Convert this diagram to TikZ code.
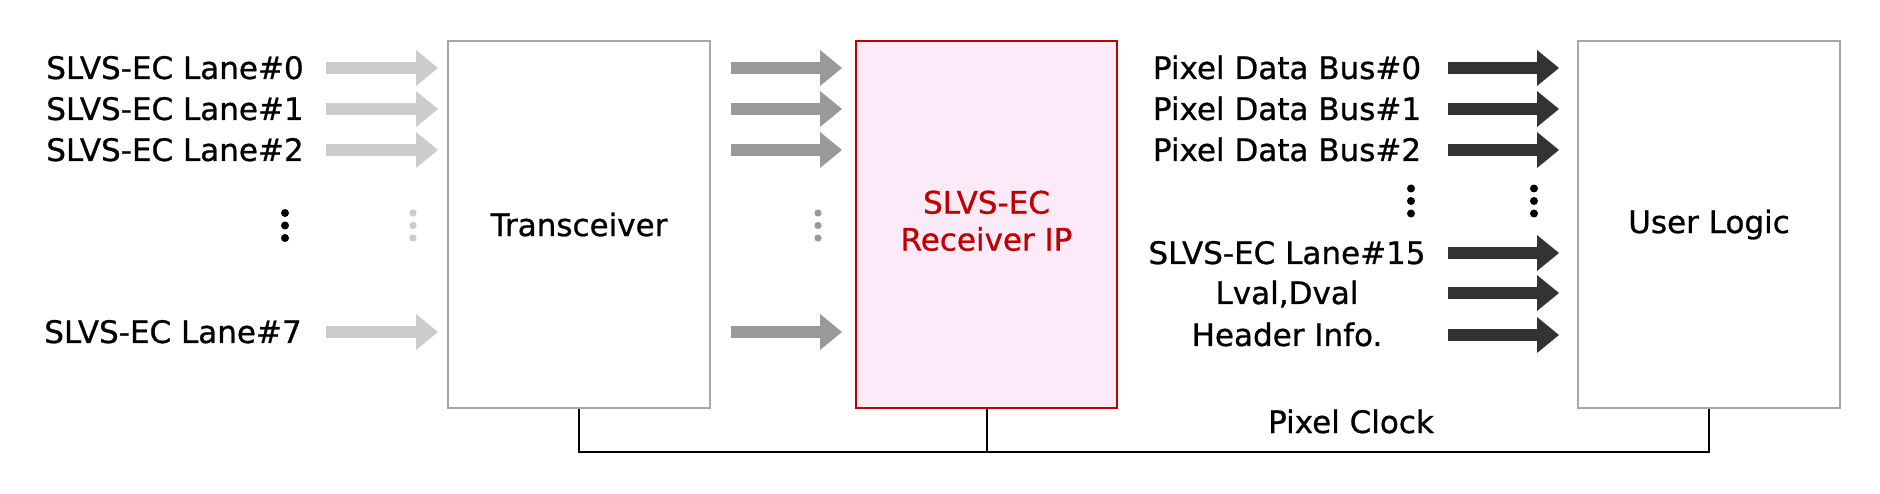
\documentclass[tikz,border=0pt]{standalone}
\usepackage{fontspec}
\setmainfont{DejaVu Sans}[FakeBold=0.8]
\usetikzlibrary{arrows.meta}
\definecolor{lgray}{HTML}{CCCCCC}
\definecolor{mgray}{HTML}{999999}
\definecolor{dgray}{HTML}{333333}
\definecolor{boxgray}{HTML}{A6A6A6}
\definecolor{ipred}{HTML}{C00000}
\definecolor{ipfill}{HTML}{FCEAF8}
\begin{document}
\begin{tikzpicture}[x=1pt,y=-1pt,
  font=\fontsize{31}{38}\selectfont,
  graybox/.style={draw=boxgray,line width=2pt,fill=white,minimum width=262pt,minimum height=367pt,inner sep=0pt},
  redbox/.style={draw=ipred,line width=2.5pt,fill=ipfill,minimum width=261pt,minimum height=367pt,inner sep=0pt,text=ipred,align=center},
  lbl/.style={anchor=base,inner sep=0pt},
  fat/.style={line width=12pt,-{Triangle[length=22pt,width=36pt,line width=0pt]}},
  larrow/.style={fat,lgray},
  marrow/.style={fat,mgray},
  darrow/.style={fat,dgray},
  clk/.style={draw=black,line width=2pt}]
\useasboundingbox (0,0) rectangle (1880,494);

% boxes
\node[graybox] (trx) at (579,224.5) {Transceiver};
\node[redbox] (rx) at (986.5,224.5) {\begin{tabular}{@{}c@{}}SLVS-EC\\[-1pt]Receiver IP\end{tabular}};
\node[graybox] (ul) at (1709,224.5) {User Logic};

% left labels
\node[lbl] (in0) at (175,79) {SLVS-EC Lane\#0};
\node[lbl] (in1) at (175,120) {SLVS-EC Lane\#1};
\node[lbl] (in2) at (175,161) {SLVS-EC Lane\#2};
\node[lbl] (in7) at (173,343) {SLVS-EC Lane\#7};

% right labels
\node[lbl] (out0) at (1287,79) {Pixel Data Bus\#0};
\node[lbl] (out1) at (1287,120) {Pixel Data Bus\#1};
\node[lbl] (out2) at (1287,161) {Pixel Data Bus\#2};
\node[lbl] (out15) at (1287,264) {SLVS-EC Lane\#15};
\node[lbl] (outv) at (1287,304) {Lval,Dval};
\node[lbl] (outh) at (1287,346) {Header Info.};

% arrows
\foreach \y/\n in {68/0,109/1,150/2,332/7}{
  \coordinate (la\n) at (326,\y); \coordinate (lb\n) at (438,\y);
  \draw[larrow] (la\n) -- (lb\n);
  \coordinate (ma\n) at (731,\y); \coordinate (mb\n) at (842,\y);
  \draw[marrow] (ma\n) -- (mb\n);
}
\foreach \y/\n in {68/0,109/1,150/2,253/15,293/v,335/h}{
  \coordinate (da\n) at (1448,\y); \coordinate (db\n) at (1559,\y);
  \draw[darrow] (da\n) -- (db\n);
}

% ellipsis dots
\foreach \y in {213,225.5,238}{
  \fill[black] (285,\y) circle (4pt);
  \fill[lgray] (413,\y) circle (3.6pt);
  \fill[mgray] (818,\y) circle (3.6pt);
}
\foreach \y in {188.5,201,213.5}{
  \fill[black] (1411,\y) circle (4pt);
  \fill[black] (1534,\y) circle (4pt);
}

% pixel clock
\coordinate (ck) at (0,452);
\draw[clk] (trx.south) -- (trx.south |- ck) -- (ul.south |- ck) -- (ul.south);
\draw[clk] (rx.south) -- (rx.south |- ck);
\node[lbl] (pclk) at (1351,433) {Pixel Clock};
\end{tikzpicture}
\end{document}
